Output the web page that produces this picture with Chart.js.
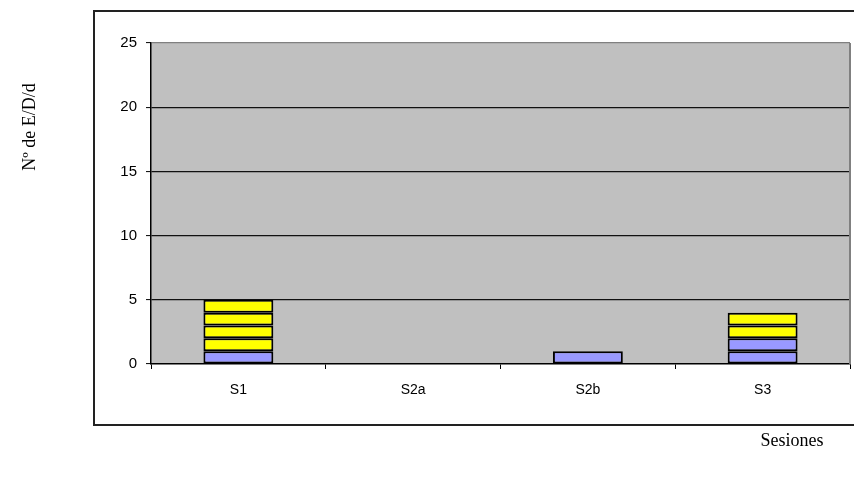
<!DOCTYPE html>
<html>
<head>
<meta charset="utf-8">
<script src="https://cdn.jsdelivr.net/npm/chart.js@4.4.1/dist/chart.umd.min.js"></script>
<style>
  html, body { margin: 0; padding: 0; background: #fff; }
  #wrap { width: 854px; height: 477px; }
</style>
</head>
<body>
<div id="wrap"><canvas id="chart" width="854" height="477"></canvas></div>
<script>
// categories and tick values
const sessions = ["S1", "S2a", "S2b", "S3"];
const yTicks = [0, 5, 10, 15, 20, 25];

// every stacked box is one unit; null = no box in that session
const blueLayer1 = [1, null, 1, 1];
const blueLayer2 = [null, null, null, 1];
const yellowLayer1 = [1, null, null, 1];
const yellowLayer2 = [1, null, null, 1];
const yellowLayer3 = [1, null, null, null];
const yellowLayer4 = [1, null, null, null];

const yTitle = "Nº de E/D/d";
const xTitle = "Sesiones";

const BLUE = "#9999FF";
const YELLOW = "#FFFF00";

function seg(data, color) {
  return {
    data: data,
    backgroundColor: color,
    borderColor: "#000000",
    borderWidth: 2,
    borderSkipped: false,
    barPercentage: 0.4,
    categoryPercentage: 1.0
  };
}

// frame, plot background and the two titles
const framePlugin = {
  id: "frame",
  beforeDraw(chart) {
    const c = chart.ctx, a = chart.chartArea;
    c.save();
    c.fillStyle = "#ffffff";
    c.fillRect(0, 0, chart.width, chart.height);
    c.strokeStyle = "#222222";
    c.lineWidth = 2;
    c.strokeRect(94, 11, 800, 414);
    c.fillStyle = "#C0C0C0";
    c.fillRect(a.left, a.top, a.right - a.left, a.bottom - a.top);
    c.restore();
  },
  afterDraw(chart) {
    const c = chart.ctx, a = chart.chartArea;
    c.save();
    c.strokeStyle = "#808080";
    c.lineWidth = 2;
    c.beginPath();
    c.moveTo(a.right, a.top);
    c.lineTo(a.right, a.bottom);
    c.stroke();
    c.fillStyle = "#000";
    c.font = "18px 'Liberation Serif'";
    c.textAlign = "center";
    c.textBaseline = "middle";
    c.fillText(xTitle, 792, 441);
    c.translate(30, 127);
    c.rotate(-Math.PI / 2);
    c.fillText(yTitle, 0, 0);
    c.restore();
  }
};

new Chart(document.getElementById("chart"), {
  type: "bar",
  data: {
    labels: sessions,
    datasets: [
      seg(blueLayer1, BLUE),
      seg(blueLayer2, BLUE),
      seg(yellowLayer1, YELLOW),
      seg(yellowLayer2, YELLOW),
      seg(yellowLayer3, YELLOW),
      seg(yellowLayer4, YELLOW)
    ]
  },
  options: {
    responsive: false,
    animation: false,
    layout: { padding: { left: 91, right: 4, top: 43, bottom: 0 } },
    plugins: { legend: { display: false }, tooltip: { enabled: false } },
    scales: {
      x: {
        stacked: true,
        afterFit(scale) { scale.height = 113; },
        grid: {
          offset: true,
          drawOnChartArea: false,
          drawTicks: true,
          tickLength: 5,
          tickColor: "#000",
          tickWidth: 1
        },
        border: { color: "#000", width: 1.5 },
        ticks: { color: "#000", font: { family: "'Liberation Sans'", size: 14 }, padding: 13 }
      },
      y: {
        stacked: true,
        min: 0,
        max: 25,
        afterFit(scale) { scale.width = 60; },
        afterBuildTicks(scale) { scale.ticks = yTicks.map(v => ({ value: v })); },
        grid: {
          color: ctx => ctx.tick && ctx.tick.value === 25 ? "#808080" : (ctx.tick && ctx.tick.value === 0 ? "rgba(0,0,0,0)" : "#111"),
          lineWidth: 1.2,
          drawTicks: true,
          tickLength: 5,
          tickColor: "#000",
          tickWidth: 1
        },
        border: { color: "#000", width: 1.5 },
        ticks: { color: "#000", font: { family: "'Liberation Sans'", size: 15 }, padding: 9 }
      }
    }
  },
  plugins: [framePlugin]
});
</script>
</body>
</html>
